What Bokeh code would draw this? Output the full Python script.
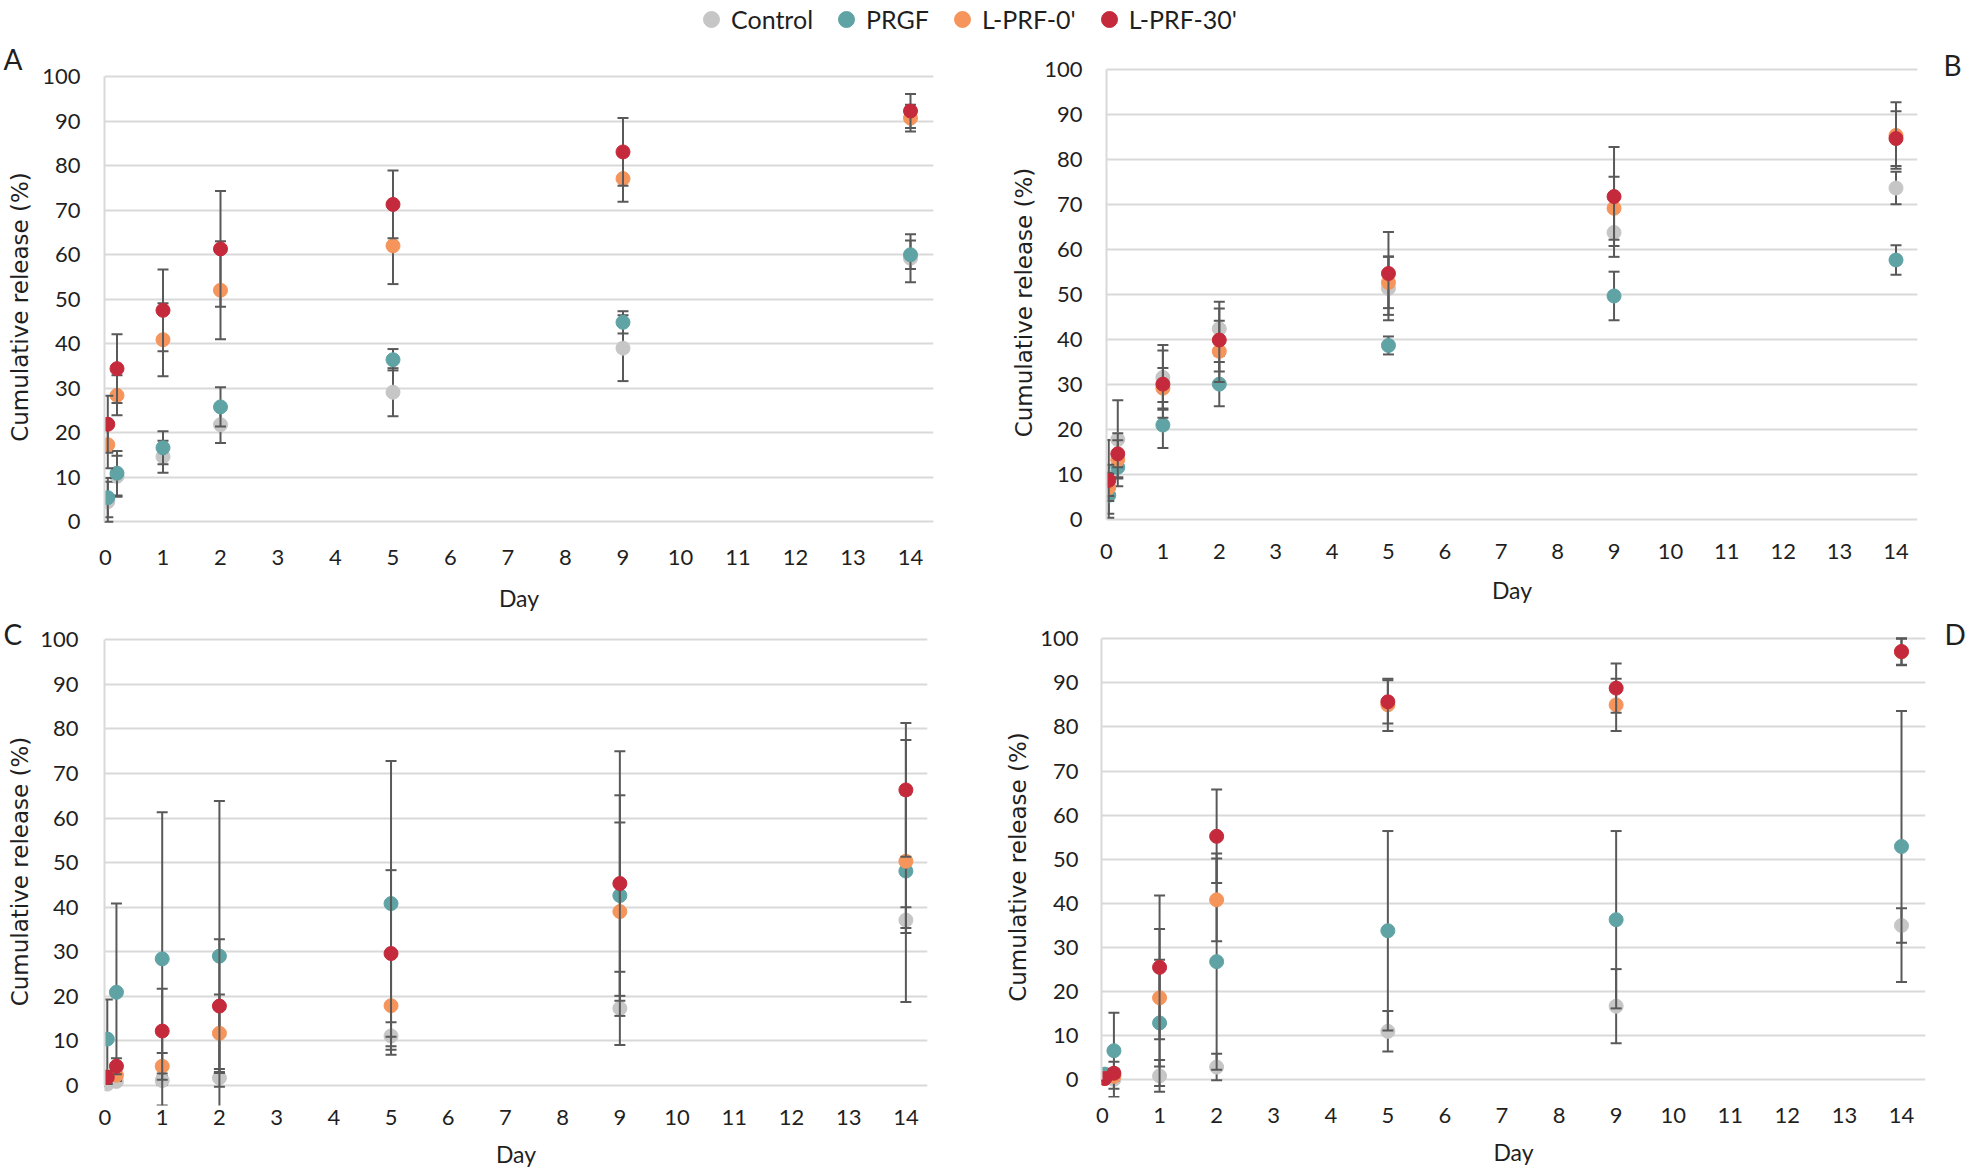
from bokeh.plotting import figure
from bokeh.layouts import column, row
from bokeh.models import Range1d, FixedTicker, Legend, LegendItem
from bokeh.embed import file_html
from bokeh.resources import INLINE

# ---------------- data ----------------
days = [0.04, 0.2, 1, 2, 5, 9, 14]
series_names = ["Control", "PRGF", "L-PRF-0'", "L-PRF-30'"]
x_ticks = list(range(0, 15))
y_ticks = list(range(0, 101, 10))

A_ctrl = [4.5, 10.2, 14.6, 21.8, 29.1, 39.0, 59.2]
A_ctrl_sd = [4.5, 4.6, 3.6, 4.1, 5.4, 7.4, 5.4]
A_prgf = [5.4, 10.9, 16.6, 25.8, 36.4, 44.8, 60.0]
A_prgf_sd = [4.4, 5.0, 3.7, 4.4, 2.4, 2.5, 3.2]
A_l0 = [17.3, 28.4, 40.9, 52.0, 62.0, 77.1, 90.7]
A_l0_sd = [5.3, 4.5, 8.2, 11.0, 8.6, 5.2, 3.0]
A_l30 = [21.9, 34.4, 47.5, 61.3, 71.3, 83.1, 92.3]
A_l30_sd = [6.4, 7.7, 9.2, 13.0, 7.6, 7.6, 3.8]

B_ctrl = [9.5, 17.8, 31.6, 42.4, 51.4, 63.8, 73.7]
B_ctrl_sd = [8.2, 8.7, 7.2, 6.0, 7.1, 5.4, 3.6]
B_prgf = [5.4, 11.6, 21.0, 30.1, 38.7, 49.7, 57.7]
B_prgf_sd = [5.0, 2.2, 5.1, 4.9, 2.0, 5.4, 3.3]
B_l0 = [7.1, 13.3, 29.2, 37.4, 52.7, 69.2, 85.4]
B_l0_sd = [3.0, 5.9, 4.5, 6.8, 5.7, 7.0, 7.4]
B_l30 = [8.7, 14.6, 30.1, 39.9, 54.7, 71.8, 84.7]
B_l30_sd = [3.5, 3.0, 7.5, 7.0, 9.2, 11.0, 6.1]

C_ctrl = [0.3, 0.9, 1.1, 1.7, 11.1, 17.3, 37.1]
C_ctrl_sd = [0.5, 0.3, 1.0, 2.0, 3.1, 8.2, 2.9]
C_prgf = [10.4, 20.9, 28.4, 29.0, 40.8, 42.6, 48.1]
C_prgf_sd = [8.9, 19.9, 32.9, 34.8, 32.0, 22.5, 29.4]
C_l0 = [1.9, 2.3, 4.3, 11.7, 17.9, 39.0, 50.3]
C_l0_sd = [1.0, 1.2, 3.0, 8.7, 11.0, 20.0, 15.0]
C_l30 = [1.8, 4.3, 12.2, 17.8, 29.6, 45.3, 66.3]
C_l30_sd = [1.5, 1.8, 9.5, 15.0, 18.7, 29.7, 15.0]

D_ctrl = [0.7, 0.1, 0.9, 2.9, 11.0, 16.7, 35.0]
D_ctrl_sd = [0.5, 4.0, 3.6, 3.0, 4.6, 8.4, 3.9]
D_prgf = [1.3, 6.6, 12.9, 26.8, 33.8, 36.3, 52.9]
D_prgf_sd = [0.5, 8.6, 14.3, 24.5, 22.6, 20.1, 30.7]
D_l0 = [0.3, 0.8, 18.6, 40.8, 85.0, 85.0, 97.0]
D_l0_sd = [0.5, 1.0, 15.6, 9.4, 5.9, 5.9, 3.0]
D_l30 = [0.3, 1.5, 25.5, 55.2, 85.7, 88.8, 97.1]
D_l30_sd = [0.5, 1.0, 16.3, 10.6, 4.9, 5.6, 3.0]

# ---------------- styles ----------------
COLORS = ["#c6c6c6", "#5fa3a5", "#f5955c", "#c42a3b"]
ERR = "#595959"
GRID = "#d9d9d9"
TXT = "#1f1f1f"
TICK_FS = 22
TITLE_FS = 23
YT_FS = 23
LET_FS = 28
YE = 100.5

# page rows (page origin is the window's top-left corner)
LEG_H = 40
ROW1 = (40, 616)
ROW2 = (616, 1170)

specs = {
    "A": dict(fig=(0, ROW1[0], 984, ROW1[1] - ROW1[0]), fl=104, fr=933, top100=76.5, bot0=521.6,
              ys=-4.0, x0px=105, x14px=910, xtick_c=557, xtitle_c=599, ytick_r=80, ytitle_c=19,
              letter=(3, 69.5)),
    "B": dict(fig=(984, ROW1[0], 984, ROW1[1] - ROW1[0]), fl=1106, fr=1917, top100=68.9, bot0=519.3,
              ys=-4.0, x0px=1106, x14px=1895.5, xtick_c=552, xtitle_c=591, ytick_r=1082.5,
              ytitle_c=1023, letter=(1943, 75)),
    "C": dict(fig=(0, ROW2[0], 984, ROW2[1] - ROW2[0]), fl=104, fr=926.6, top100=639.4, bot0=1084.8,
              ys=-4.5, x0px=104.5, x14px=905, xtick_c=1117, xtitle_c=1154, ytick_r=78.4, ytitle_c=19,
              letter=(3, 644)),
    "D": dict(fig=(984, ROW2[0], 984, ROW2[1] - ROW2[0]), fl=1101, fr=1925, top100=638.3, bot0=1079.2,
              ys=-4.0, x0px=1102, x14px=1901, xtick_c=1115, xtitle_c=1152, ytick_r=1078,
              ytitle_c=1017, letter=(1944, 644)),
}

panel_data = {
    "A": [(A_ctrl, A_ctrl_sd), (A_prgf, A_prgf_sd), (A_l0, A_l0_sd), (A_l30, A_l30_sd)],
    "B": [(B_ctrl, B_ctrl_sd), (B_prgf, B_prgf_sd), (B_l0, B_l0_sd), (B_l30, B_l30_sd)],
    "C": [(C_ctrl, C_ctrl_sd), (C_prgf, C_prgf_sd), (C_l0, C_l0_sd), (C_l30, C_l30_sd)],
    "D": [(D_ctrl, D_ctrl_sd), (D_prgf, D_prgf_sd), (D_l0, D_l0_sd), (D_l30, D_l30_sd)],
}


def make_panel(name):
    s = specs[name]
    fx, fyy, fw, fh = s["fig"]
    top100, bot0 = s["top100"], s["bot0"]
    ppu = (bot0 - top100) / 100.0
    frame_top = top100 - (YE - 100) * ppu
    frame_bot = bot0 - s["ys"] * ppu
    mbt = int(round(frame_top - fyy))
    mbb = int(round(fyy + fh - frame_bot))
    mbl = int(round(s["fl"] - fx))
    mbr = int(round(fx + fw - s["fr"]))
    ppd = (s["x14px"] - s["x0px"]) / 14.0
    xs = (s["fl"] - s["x0px"]) / ppd
    xe = (s["fr"] - s["x0px"]) / ppd

    p = figure(width=fw, height=fh, x_range=Range1d(xs, xe), y_range=Range1d(s["ys"], YE),
               output_backend="svg", toolbar_location=None,
               min_border_left=mbl, min_border_right=mbr,
               min_border_top=mbt, min_border_bottom=mbb)
    try:
        p.frame_align = False
    except Exception:
        pass
    p.outline_line_color = None
    p.background_fill_color = "white"
    p.xgrid.visible = False
    p.ygrid.ticker = FixedTicker(ticks=y_ticks)
    p.ygrid.grid_line_color = GRID
    p.ygrid.grid_line_width = 2

    fb_act = fyy + fh - mbb
    ft_act = fyy + mbt
    fl_act = fx + mbl

    xa = p.xaxis[0]
    xa.ticker = FixedTicker(ticks=x_ticks)
    xa.axis_line_color = None
    xa.major_tick_line_color = None
    xa.minor_tick_line_color = None
    xa.major_tick_out = 0
    xa.major_tick_in = 0
    xa.major_label_text_font = "Lato"
    xa.major_label_text_font_size = f"{TICK_FS}px"
    xa.major_label_text_color = TXT
    s1 = max(int(round(s["xtick_c"] - fb_act - 8.5)), 0)
    xa.major_label_standoff = s1
    xa.axis_label = "Day"
    xa.axis_label_text_font = "Lato"
    xa.axis_label_text_font_size = f"{TITLE_FS}px"
    xa.axis_label_text_font_style = "normal"
    xa.axis_label_text_color = TXT
    s2 = max(int(round(s["xtitle_c"] - fb_act - s1 - 33.5)), 0)
    xa.axis_label_standoff = s2

    ya = p.yaxis[0]
    ya.ticker = FixedTicker(ticks=y_ticks)
    ya.bounds = (0, 100)
    ya.axis_line_color = GRID
    ya.axis_line_width = 2
    ya.major_tick_line_color = None
    ya.minor_tick_line_color = None
    ya.major_tick_out = 0
    ya.major_tick_in = 0
    ya.major_label_text_font = "Lato"
    ya.major_label_text_font_size = f"{TICK_FS}px"
    ya.major_label_text_color = TXT
    t1 = int(round(fl_act - s["ytick_r"]))
    ya.major_label_standoff = t1
    ya.axis_label = "Cumulative release (%)"
    ya.axis_label_text_font = "DejaVu Sans"
    ya.axis_label_text_font_size = f"{YT_FS}px"
    ya.axis_label_text_font_style = "normal"
    ya.axis_label_text_color = TXT
    t2 = int(round(fl_act - s["ytitle_c"] - t1 - 54.5))
    ya.axis_label_standoff = max(t2, 0)

    for (means, sds), color in zip(panel_data[name], COLORS):
        lo = [m - d for m, d in zip(means, sds)]
        hi = [m + d for m, d in zip(means, sds)]
        p.segment(x0=days, y0=lo, x1=days, y1=hi, line_color=ERR, line_width=2)
        p.scatter(x=days, y=lo, marker="dash", size=11, line_color=ERR, line_width=2)
        p.scatter(x=days, y=hi, marker="dash", size=11, line_color=ERR, line_width=2)
        p.scatter(x=days, y=means, marker="circle", size=14, fill_color=color, line_color=color)

    # panel letter as the plot title
    lx, lby = s["letter"]
    t = p.title
    t.text = name
    t.text_font = "Lato"
    t.text_font_size = f"{LET_FS}px"
    t.text_font_style = "normal"
    t.text_color = TXT
    t.align = "left"
    t.vertical_align = "bottom"
    t.offset = int(round(lx - fl_act))
    so = int(round(2 * (ft_act - (lby + 6))))
    so = min(so, mbt - 35)
    so = max(so, -34)
    try:
        t.standoff = so
    except Exception:
        t.standoff = 0
    return p


# legend strip above the panels
leg = figure(width=1968, height=LEG_H, x_range=Range1d(100, 101), y_range=Range1d(100, 101),
             x_axis_type=None, y_axis_type=None, output_backend="svg",
             toolbar_location=None, min_border=0)
leg.outline_line_color = None
leg.grid.visible = False
items = []
for nm, c, vals in zip(series_names, COLORS, [A_ctrl, A_prgf, A_l0, A_l30]):
    r = leg.scatter(x=days[:1], y=vals[:1], marker="circle", size=16, fill_color=c, line_color=c)
    items.append(LegendItem(label=nm, renderers=[r]))
legend = Legend(items=items, orientation="horizontal", location=(691, 1),
                glyph_width=40, glyph_height=40, label_standoff=0, spacing=13,
                padding=0, margin=0, border_line_color=None, background_fill_alpha=0,
                label_text_font="Lato", label_text_font_size="25px", label_text_color=TXT)
leg.add_layout(legend)

pA = make_panel("A")
pB = make_panel("B")
pC = make_panel("C")
pD = make_panel("D")

layout = column(leg, row(pA, pB), row(pC, pD))
open("out.html", "w").write(file_html(layout, INLINE))
